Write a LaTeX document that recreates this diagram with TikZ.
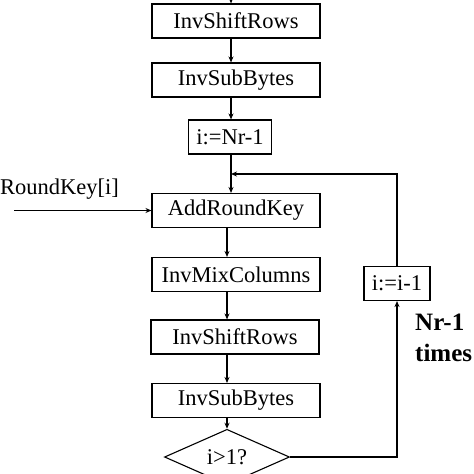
\documentclass[tikz,border=0pt]{standalone}
\usepackage{fontspec}
\setmainfont{Liberation Serif}
\usetikzlibrary{shapes.geometric,arrows.meta}

\begin{document}
\begin{tikzpicture}[x=1pt,y=-1pt,
    stepbox/.style={draw,line width=1.1pt,minimum height=34pt,inner sep=0,font=\fontsize{22.5}{26}\selectfont},
    flow/.style={line width=1.1pt,-{Stealth[length=6pt,width=5pt]}}]
    \pgfmathsetmacro{\boxwidth}{168}
    \pgfmathsetmacro{\axis}{231}
    \pgfmathsetmacro{\lowaxis}{227}
    \pgfmathsetmacro{\loopx}{397}
    \useasboundingbox (0,0) rectangle (474,474);
    \node[stepbox,minimum width=\boxwidth](shiftA) at (236,21){InvShiftRows};
    \node[stepbox,minimum width=\boxwidth](subA) at (236,80){InvSubBytes};
    \node[stepbox,minimum width=83](init) at (230,137){i:=Nr-1};
    \node[stepbox,minimum width=\boxwidth](addkey) at (236,210.5){AddRoundKey};
    \node[stepbox,minimum width=\boxwidth](mix) at (236,274.5){InvMixColumns};
    \node[stepbox,minimum width=\boxwidth](shiftB) at (235,337){InvShiftRows};
    \node[stepbox,minimum width=\boxwidth](subB) at (236,400.5){InvSubBytes};
    \node[draw,diamond,line width=1.1pt,inner sep=0,minimum width=125,minimum height=42,font=\fontsize{22.5}{26}\selectfont](test) at (\lowaxis,457){i>1?};
    \node[stepbox,minimum width=66](dec) at (\loopx,283.5){i:=i-1};
    \node[anchor=base west,inner sep=0,font=\fontsize{22.5}{26}\selectfont](key) at (0,194){RoundKey[i]};
    \node[anchor=base west,inner sep=0,align=left,font=\fontsize{25}{31}\selectfont\bfseries](count) at (415,361){Nr-1\\times};
    \coordinate (top) at (\axis,0);
    \coordinate (low) at (\lowaxis,0);
    \coordinate (keyin) at (14,210.5);
    \coordinate (join) at (\axis,174);
    \draw[flow] (top) -- (shiftA.north -| top);
    \draw[flow] (shiftA.south -| top) -- (subA.north -| top);
    \draw[flow] (subA.south -| top) -- (init.north -| top);
    \draw[flow] (init.south -| top) -- (addkey.north -| top);
    \draw[flow] (addkey.south -| low) -- (mix.north -| low);
    \draw[flow] (mix.south -| low) -- (shiftB.north -| low);
    \draw[flow] (shiftB.south -| low) -- (subB.north -| low);
    \draw[flow] (subB.south -| low) -- (test.north);
    \draw[flow] (keyin) -- (addkey.west);
    \draw[flow] (test.east) -| (dec.south);
    \draw[flow] (dec.north) |- (join);
\end{tikzpicture}
\end{document}
